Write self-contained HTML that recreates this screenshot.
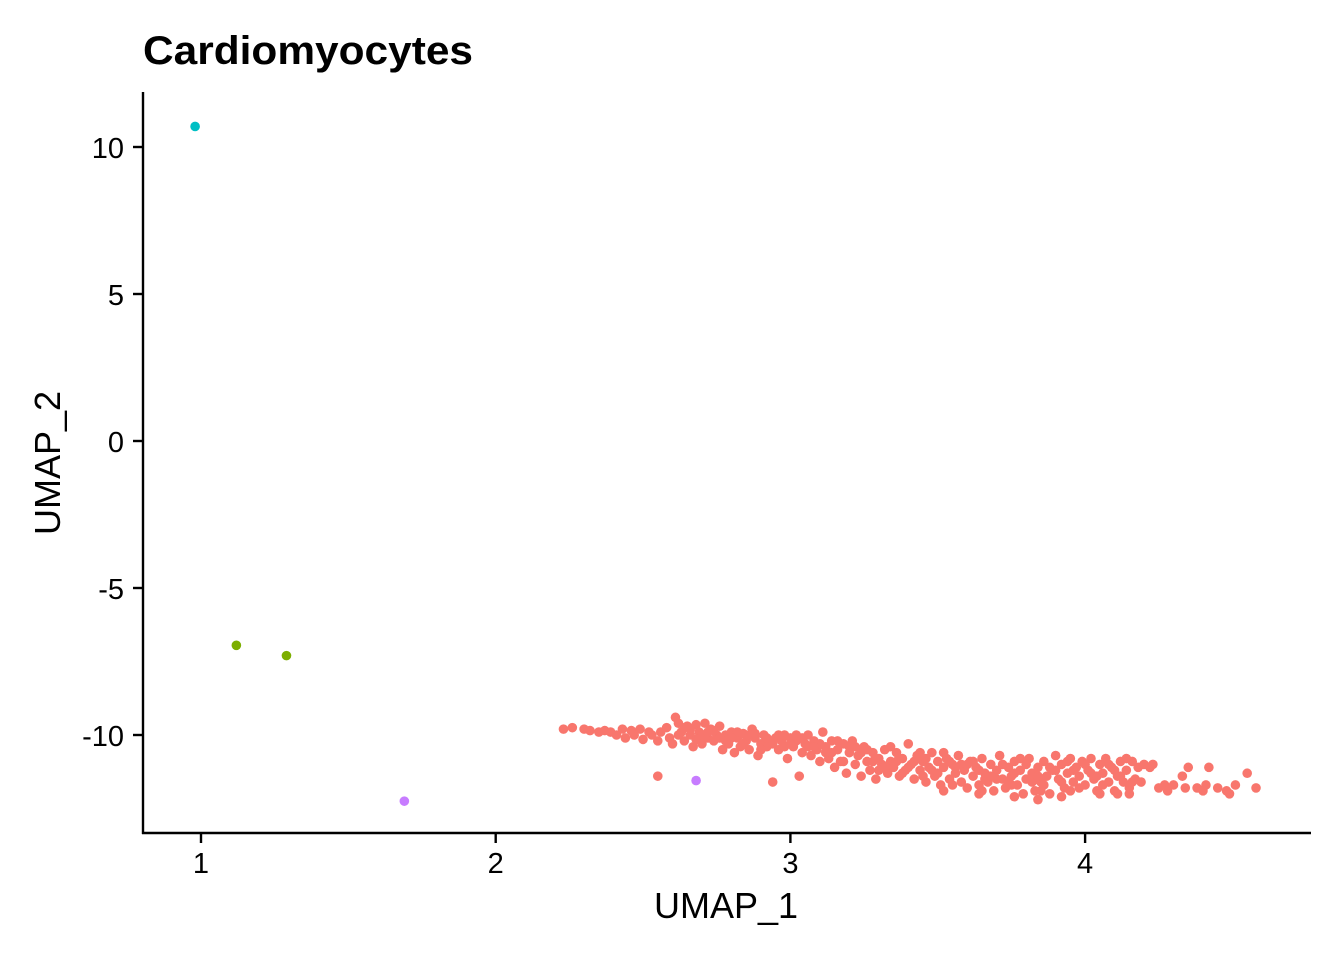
<!DOCTYPE html>
<html><head><meta charset="utf-8"><style>
html,body{margin:0;padding:0;background:#fff;}
svg{display:block;font-family:"Liberation Sans",sans-serif;}
</style></head><body>
<svg id="chart" width="1344" height="960" xmlns="http://www.w3.org/2000/svg">
<text x="143" y="64" font-size="40" font-weight="bold" fill="#000" textLength="330" lengthAdjust="spacingAndGlyphs">Cardiomyocytes</text>
<g id="points"></g>
<line x1="143" y1="92" x2="143" y2="834" stroke="#000" stroke-width="2.4"/>
<line x1="142" y1="833" x2="1311" y2="833" stroke="#000" stroke-width="2.4"/>
<g id="xticks"></g>
<g id="yticks"></g>
<text x="726" y="918" font-size="36" text-anchor="middle">UMAP_1</text>
<text transform="translate(60,463) rotate(-90)" font-size="36" text-anchor="middle">UMAP_2</text>
</svg>
<script>
const xTicks = [1, 2, 3, 4];
const yTicks = [10, 5, 0, -5, -10];
const cyanPts = [[0.98, 10.7]];
const greenPts = [[1.12, -6.95], [1.29, -7.3]];
const purplePts = [[1.69, -12.25], [2.68, -11.55]];
const salmonPts = [
[2.23,-9.8],[2.26,-9.75],[2.30,-9.8],[2.32,-9.85],[2.35,-9.9],[2.37,-9.85],[2.39,-9.9],[2.41,-10.0],[2.43,-9.8],[2.44,-10.1],[2.46,-9.85],[2.47,-10.0],[2.49,-9.8],[2.50,-10.15],[2.52,-9.9],[2.53,-10.0],[2.55,-10.2],[2.56,-9.9],[2.58,-9.75],[2.59,-10.1],[2.55,-11.4],[2.60,-10.3],[2.61,-9.4],[2.62,-9.6],[2.63,-9.9],[2.64,-10.2],[2.65,-9.7],[2.66,-10.0],[2.67,-10.4],[2.68,-9.65],[2.69,-9.9],[2.70,-10.3],[2.71,-9.6],[2.72,-10.1],[2.73,-9.8],[2.74,-10.2],[2.75,-10.0],[2.76,-9.7],[2.77,-10.5],[2.78,-10.0],[2.79,-10.3],[2.80,-9.9],[2.81,-10.6],[2.82,-10.1],[2.83,-10.4],[2.84,-9.95],[2.85,-10.2],[2.86,-10.5],[2.87,-9.8],[2.88,-10.1],[2.89,-10.7],[2.90,-10.3],[2.91,-10.0],[2.92,-10.4],[2.93,-10.2],[2.94,-11.6],[2.95,-10.1],[2.96,-10.5],[2.97,-10.2],[2.98,-10.0],[2.99,-10.8],[3.00,-10.1],[3.01,-10.4],[3.02,-10.2],[3.03,-11.4],[3.04,-10.6],[3.05,-10.3],[3.06,-10.0],[3.07,-10.7],[3.08,-10.2],[3.09,-10.5],[3.10,-10.9],[3.11,-9.9],[3.12,-10.4],[3.13,-10.8],[3.14,-10.2],[3.15,-11.1],[3.16,-10.5],[3.17,-10.9],[3.18,-10.3],[3.19,-11.3],[3.20,-10.6],[3.21,-10.2],[3.22,-11.0],[3.23,-10.7],[3.24,-11.4],[3.25,-10.4],[3.26,-10.9],[3.27,-11.2],[3.28,-10.6],[3.29,-11.5],[3.30,-10.8],[3.31,-11.0],[3.32,-10.5],[3.33,-11.3],[3.34,-10.9],[3.35,-11.1],[3.36,-10.6],[3.37,-11.4],[3.38,-10.8],[3.39,-11.2],[3.40,-10.3],[3.41,-11.0],[3.42,-11.5],[3.43,-10.7],[3.44,-11.2],[3.45,-10.9],[3.46,-11.6],[3.47,-11.1],[3.48,-10.6],[3.49,-11.4],[3.50,-10.9],[3.51,-11.7],[3.52,-11.1],[3.53,-10.8],[3.54,-11.5],[3.55,-11.0],[3.56,-11.3],[3.57,-10.7],[3.58,-11.6],[3.59,-11.2],[3.60,-11.8],[3.61,-10.9],[3.62,-11.4],[3.63,-11.1],[3.64,-11.7],[3.65,-10.8],[3.66,-11.3],[3.67,-11.6],[3.68,-11.0],[3.69,-11.9],[3.70,-11.2],[3.71,-10.7],[3.72,-11.5],[3.73,-11.8],[3.74,-11.1],[3.75,-11.4],[3.76,-10.9],[3.77,-11.7],[3.78,-11.2],[3.79,-12.0],[3.80,-11.5],[3.81,-10.8],[3.82,-11.3],[3.83,-11.9],[3.84,-11.1],[3.85,-11.6],[3.86,-10.9],[3.87,-11.4],[3.88,-12.0],[3.89,-11.2],[3.90,-10.7],[3.91,-11.5],[3.92,-11.0],[3.93,-11.8],[3.94,-11.3],[3.95,-10.8],[3.96,-11.6],[3.97,-11.1],[3.98,-11.4],[3.99,-10.9],[4.00,-11.7],[4.01,-11.2],[4.02,-10.8],[4.03,-11.5],[4.04,-11.9],[4.05,-11.0],[4.06,-11.3],[4.07,-10.8],[4.08,-11.6],[4.09,-11.1],[4.10,-11.9],[4.11,-11.4],[4.12,-10.9],[4.13,-11.6],[4.14,-11.2],[4.15,-11.8],[4.16,-10.9],[4.17,-11.5],[4.18,-11.1],[4.19,-11.6],[4.20,-11.0],[4.22,-11.1],[4.23,-11.0],[4.25,-11.8],[4.27,-11.7],[4.28,-11.9],[4.30,-11.7],[4.33,-11.4],[4.34,-11.8],[4.35,-11.1],[4.38,-11.8],[4.40,-11.9],[4.41,-11.7],[4.42,-11.1],[4.45,-11.8],[4.48,-11.9],[4.49,-12.0],[4.51,-11.7],[4.55,-11.3],[4.58,-11.8],
[2.62,-10.0],[2.66,-9.8],[2.70,-10.0],[2.74,-9.85],[2.78,-10.2],[2.82,-9.9],[2.86,-10.0],[2.90,-10.5],[2.94,-10.3],[2.98,-10.4],[3.02,-10.0],[3.06,-10.4],[3.10,-10.3],[3.14,-10.6],[3.18,-10.9],[3.22,-10.4],[3.26,-10.5],[3.30,-11.2],[3.34,-10.4],[3.38,-11.3],[3.42,-10.9],[3.46,-10.8],[3.50,-11.3],[3.54,-10.9],[3.58,-11.0],[3.62,-10.9],[3.66,-11.5],[3.70,-11.5],[3.74,-11.6],[3.78,-10.8],[3.82,-11.6],[3.86,-11.7],[3.90,-11.2],[3.94,-10.9],[3.98,-11.8],[4.02,-11.3],[4.06,-11.7],[4.10,-11.2],[4.14,-10.8],[3.52,-11.9],[3.64,-12.0],[3.76,-12.1],[3.84,-12.2],[3.92,-12.1],[4.05,-12.0],[4.15,-12.0],
[2.64,-9.75],[2.68,-10.15],[2.72,-9.9],[2.76,-10.1],[2.80,-10.1],[2.84,-10.3],[2.88,-9.95],[2.92,-10.1],[2.96,-10.0],[3.00,-10.3],[3.04,-10.1],[3.08,-10.4],[3.12,-10.6],[3.16,-10.2],[3.20,-10.4],[3.24,-10.6],[3.28,-10.9],[3.32,-11.1],[3.36,-10.9],[3.40,-11.1],[3.44,-10.6],[3.48,-11.2],[3.52,-10.6],[3.56,-11.1],[3.60,-11.0],[3.64,-11.2],[3.68,-11.4],[3.72,-11.0],[3.76,-11.3],[3.80,-11.0],[3.84,-11.4],[3.88,-11.1],[3.92,-11.6],[3.96,-11.2],[4.00,-11.0],[4.04,-11.4],[4.08,-11.0],[4.12,-11.4],[4.16,-11.6],[3.45,-11.4],[3.55,-11.7],[3.65,-11.9],[3.75,-11.7],[3.85,-11.9],[3.95,-11.9],[4.11,-12.0]
];
const xPx = v => 201 + (v - 1) * 294.7;
const yPx = v => 441 - v * 29.4;
const NS = "http://www.w3.org/2000/svg";
const pg = document.getElementById('points');
function drawSeries(pts, color, name) {
  pts.forEach(p => {
    const c = document.createElementNS(NS, 'circle');
    c.setAttribute('cx', xPx(p[0]));
    c.setAttribute('cy', yPx(p[1]));
    c.setAttribute('r', 4.8);
    c.setAttribute('fill', color);
    
    
    pg.appendChild(c);
  });
}
drawSeries(salmonPts, '#F8766D', 'point-cluster-0');
drawSeries(greenPts, '#7CAE00', 'point-cluster-1');
drawSeries(cyanPts, '#00BFC4', 'point-cluster-2');
drawSeries(purplePts, '#C77CFF', 'point-cluster-3');
const xg = document.getElementById('xticks');
xTicks.forEach(t => {
  const x = xPx(t);
  const l = document.createElementNS(NS, 'line');
  l.setAttribute('x1', x); l.setAttribute('x2', x);
  l.setAttribute('y1', 833); l.setAttribute('y2', 843);
  l.setAttribute('stroke', '#000'); l.setAttribute('stroke-width', 2.4);
  
  
  xg.appendChild(l);
  const tx = document.createElementNS(NS, 'text');
  tx.setAttribute('x', x); tx.setAttribute('y', 873);
  tx.setAttribute('font-size', 29); tx.setAttribute('text-anchor', 'middle');
  tx.setAttribute('fill', '#000');
  tx.textContent = t;
  
  
  xg.appendChild(tx);
});
const yg = document.getElementById('yticks');
yTicks.forEach(t => {
  const y = yPx(t);
  const l = document.createElementNS(NS, 'line');
  l.setAttribute('x1', 133); l.setAttribute('x2', 143);
  l.setAttribute('y1', y); l.setAttribute('y2', y);
  l.setAttribute('stroke', '#000'); l.setAttribute('stroke-width', 2.4);
  
  
  yg.appendChild(l);
  const tx = document.createElementNS(NS, 'text');
  tx.setAttribute('x', 124); tx.setAttribute('y', y + 11);
  tx.setAttribute('font-size', 29); tx.setAttribute('text-anchor', 'end');
  tx.setAttribute('fill', '#000');
  tx.textContent = t;
  
  
  yg.appendChild(tx);
});
</script>
</body></html>
